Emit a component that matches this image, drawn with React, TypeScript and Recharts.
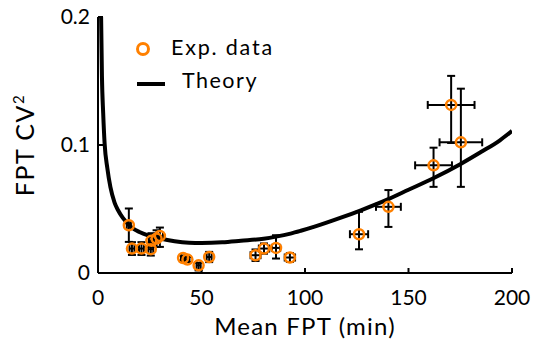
import { ComposedChart, Line, Scatter, ErrorBar, XAxis, YAxis, Legend, Label } from 'recharts'

const expX = [14.9, 16.4, 21.0, 25.5, 25.8, 28.3, 29.9, 41.1, 43.2, 48.6, 53.7, 76.1, 80.2, 86.0, 92.7, 126.1, 140.3, 162.1, 170.6, 175.3]
const expY = [0.0373, 0.0191, 0.0191, 0.0186, 0.0251, 0.0269, 0.029, 0.0117, 0.0105, 0.006, 0.0125, 0.0139, 0.0191, 0.0196, 0.0121, 0.0303, 0.0517, 0.0841, 0.1313, 0.1021]
const expXErr = [1, 1.2, 1.2, 1.2, 1.2, 1.5, 1.5, 1, 1, 1, 1.2, 2.4, 2.5, 2, 2.5, 4.4, 6, 8.9, 11.3, 10.3]
const expYLow = [0.013, 0.005, 0.005, 0.005, 0.0047, 0.0065, 0.0086, 0.002, 0.002, 0.004, 0.004, 0.0045, 0.004, 0.0083, 0.0035, 0.0118, 0.0157, 0.0168, 0.0297, 0.0348]
const expYHigh = [0.0131, 0.005, 0.005, 0.005, 0.006, 0.0065, 0.0065, 0.002, 0.002, 0.002, 0.004, 0.0045, 0.004, 0.0099, 0.0035, 0.0175, 0.0131, 0.0138, 0.0227, 0.0419]

// theory curve samples
const theoryX = [1.5, 1.9, 2.5, 3.2, 4.5, 6, 8, 9.7, 12, 16, 20, 25, 30, 37, 44, 50, 60, 69, 80, 86, 93, 98, 105, 117, 127, 140, 150, 162, 175, 185, 194, 200]
const theoryY = [0.2, 0.154, 0.125, 0.101, 0.082, 0.067, 0.055, 0.049, 0.043, 0.036, 0.032, 0.029, 0.0269, 0.0248, 0.0237, 0.0235, 0.024, 0.0252, 0.0268, 0.0284, 0.0308, 0.033, 0.0364, 0.043, 0.049, 0.0575, 0.065, 0.074, 0.085, 0.0945, 0.1035, 0.111]

const xTicks = [0, 50, 100, 150, 200]
const yTicks = [0, 0.1, 0.2]

const ORANGE = '#ff8000'
const FONT = 'Lato, "Open Sans", sans-serif'

const expData = expX.map((x, i) => ({
  x,
  y: expY[i],
  ex: expXErr[i],
  ey: [expYLow[i], expYHigh[i]],
}))
const theoryData = theoryX.map((x, i) => ({ x, y: theoryY[i] }))

const Ring = (props: any) => (
  <circle cx={props.cx} cy={props.cy} r={5} fill="none" stroke={ORANGE} strokeWidth={2.5} />
)

const LegendBox = () => (
  <svg width={170} height={70} style={{ fontFamily: FONT, display: 'block' }}>
    <circle cx={15} cy={19} r={5.5} fill="none" stroke={ORANGE} strokeWidth={3} />
    <text x={43} y={25} fontSize={21.5} letterSpacing={1.8} fill="#000">Exp. data</text>
    <line x1={9} y1={54} x2={37} y2={54} stroke="#000" strokeWidth={4} />
    <text x={54} y={58} fontSize={21.5} letterSpacing={1.5} fill="#000">Theory</text>
  </svg>
)

const YTitle = (props: any) => {
  const vb = props.viewBox || { x: 0, y: 0, height: 0 }
  const cx = vb.x + 34
  const cy = vb.y + vb.height / 2 + 0
  return (
    <text x={cx} y={cy} transform={`rotate(-90 ${cx} ${cy})`} textAnchor="middle"
      fontSize={25} letterSpacing={1.5} fontFamily={FONT} fill="#000">
      FPT CV<tspan dy={-10} fontSize={15}>2</tspan>
    </text>
  )
}

export default function App() {
  return (
    <div style={{ width: 534, height: 344, background: '#fff' }}>
      <style>{'body{margin:0}'}</style>
      <ComposedChart width={534} height={344} margin={{ top: 17, right: 22, bottom: 0, left: 0 }}
        style={{ fontFamily: FONT }}>
        <XAxis
          type="number"
          dataKey="x"
          domain={[0, 200]}
          ticks={xTicks}
          allowDataOverflow
          height={71}
          tickSize={-5}
          tickMargin={22}
          tick={{ fontSize: 21, fill: '#000' }}
          axisLine={{ stroke: '#000', strokeWidth: 2 }}
          tickLine={{ stroke: '#000', strokeWidth: 2 }}
        >
          <Label value="Mean FPT (min)" position="insideBottom" offset={9} fontSize={24} letterSpacing={1.2} fill="#000" />
        </XAxis>
        <YAxis
          type="number"
          domain={[0, 0.2]}
          ticks={yTicks}
          allowDataOverflow
          width={98}
          tickSize={-5}
          tickMargin={13}
          tick={{ fontSize: 21, fill: '#000' }}
          axisLine={{ stroke: '#000', strokeWidth: 2 }}
          tickLine={{ stroke: '#000', strokeWidth: 2 }}
        >
          <Label content={<YTitle />} />
        </YAxis>
        <Legend content={<LegendBox />} layout="vertical" align="center" verticalAlign="middle"
          wrapperStyle={{ position: 'absolute', top: 30, left: 128, width: 170, height: 70 }} />
        <Line data={theoryData} dataKey="y" type="monotone" stroke="#000" strokeWidth={4}
          dot={false} isAnimationActive={false} legendType="none" />
        <Scatter data={expData} dataKey="y" shape={<Ring />} isAnimationActive={false}>
          <ErrorBar dataKey="ex" direction="x" width={4} stroke="#000" strokeWidth={2} />
          <ErrorBar dataKey="ey" direction="y" width={4} stroke="#000" strokeWidth={2} />
        </Scatter>
      </ComposedChart>
    </div>
  )
}
